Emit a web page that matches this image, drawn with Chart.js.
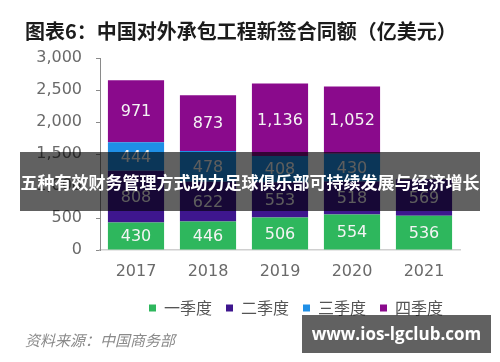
<!DOCTYPE html>
<html>
<head>
<meta charset="utf-8">
<script src="https://cdn.jsdelivr.net/npm/chart.js@4"></script>
<style>
  body { margin: 0; background: #fff; }
  #wrap { position: relative; width: 500px; height: 362px; overflow: hidden; font-family: "Noto Sans CJK SC", sans-serif; }
  #c { position: absolute; left: 0; top: 0; }
  .title { position: absolute; left: 25px; top: 19px; font-size: 20px; font-weight: bold; color: #1c1c1c; line-height: 24px; white-space: nowrap; }
  .source { position: absolute; left: 25px; top: 331px; font-size: 15px; font-style: italic; color: #8a8a8a; line-height: 18px; white-space: nowrap; }
  .banner { position: absolute; left: 20px; top: 152px; width: 460px; height: 59px; background: rgba(0,0,0,0.62); color: #fff; font-weight: bold; font-size: 17px; line-height: 59px; text-align: center; white-space: nowrap; }
  .mark { position: absolute; left: 302px; top: 315px; width: 189px; height: 38px; background: rgba(0,0,0,0.62); color: #fff; font-family: "Open Sans", sans-serif; font-weight: bold; font-size: 17px; line-height: 38px; text-align: center; white-space: nowrap; }
</style>
</head>
<body>
<div id="wrap">
  <canvas id="c" width="500" height="362"></canvas>
  <div class="title">图表6：中国对外承包工程新签合同额（亿美元）</div>
  <div class="source">资料来源：中国商务部</div>
  <div class="banner">五种有效财务管理方式助力足球俱乐部可持续发展与经济增长</div>
  <div class="mark">www.ios-lgclub.com</div>
</div>
<script>
const years = ['2017', '2018', '2019', '2020', '2021'];
const q1 = [430, 446, 506, 554, 536];
const q2 = [808, 622, 553, 518, 569];
const q3 = [444, 478, 408, 430, null];
const q4 = [971, 873, 1136, 1052, null];
const seriesNames = ['一季度', '二季度', '三季度', '四季度'];
const yTicks = [0, 500, 1000, 1500, 2000, 2500, 3000];

const ff = '"DejaVu Sans", Verdana, sans-serif';
const colors = ['#2eb75d', '#3e168e', '#1f8fe6', '#8a0a8c'];

// values written in the middle of each segment
const barLabels = {
    id: 'barLabels',
    afterDatasetsDraw(chart) {
        const ctx = chart.ctx;
        ctx.save();
        ctx.font = '16px ' + ff;
        ctx.fillStyle = '#f4f4f4';
        ctx.textAlign = 'center';
        ctx.textBaseline = 'middle';
        chart.data.datasets.forEach((ds, i) => {
            chart.getDatasetMeta(i).data.forEach((bar, j) => {
                const v = ds.data[j];
                if (v == null) return;
                ctx.fillText(v.toLocaleString('en-US'), bar.x, (bar.y + bar.base) / 2 + 1);
            });
        });
        ctx.restore();
    }
};

// legend sits under the plot, a bit right of page centre
const legendShift = {
    id: 'legendShift',
    afterLayout(chart) {
        chart.legend.left += 66;
        chart.legend.right += 66;
    }
};

new Chart(document.getElementById('c'), {
    type: 'bar',
    data: {
        labels: years,
        datasets: [q1, q2, q3, q4].map((d, i) => ({
            label: seriesNames[i],
            data: d,
            backgroundColor: colors[i],
            borderWidth: 0,
            categoryPercentage: 1,
            barPercentage: 0.78
        }))
    },
    options: {
        responsive: false,
        animation: false,
        layout: { padding: { top: 58, left: 0, right: 40, bottom: 36 } },
        plugins: {
            legend: {
                position: 'bottom',
                labels: {
                    font: { size: 16, family: '"Noto Sans CJK SC", sans-serif' },
                    color: '#555',
                    boxWidth: 7,
                    boxHeight: 7,
                    padding: 14
                }
            },
            tooltip: { enabled: false }
        },
        scales: {
            x: {
                stacked: true,
                grid: { drawOnChartArea: false, drawTicks: false },
                border: { display: true, color: '#d0d0d0', width: 1.5 },
                ticks: { font: { size: 16, family: ff }, color: '#6a6a6a', padding: 12 },
                afterFit: s => { s.height = 36; }
            },
            y: {
                stacked: true,
                min: 0,
                max: 3000,
                afterBuildTicks: s => { s.ticks = yTicks.map(v => ({ value: v })); },
                grid: { drawOnChartArea: false, drawTicks: true, tickLength: 4, color: '#8a8a8a' },
                border: { display: true, color: '#8a8a8a' },
                ticks: { font: { size: 16, family: ff }, color: '#6a6a6a', padding: 14 },
                afterFit: s => { s.width = 100; }
            }
        }
    },
    plugins: [barLabels, legendShift]
});
</script>
</body>
</html>
